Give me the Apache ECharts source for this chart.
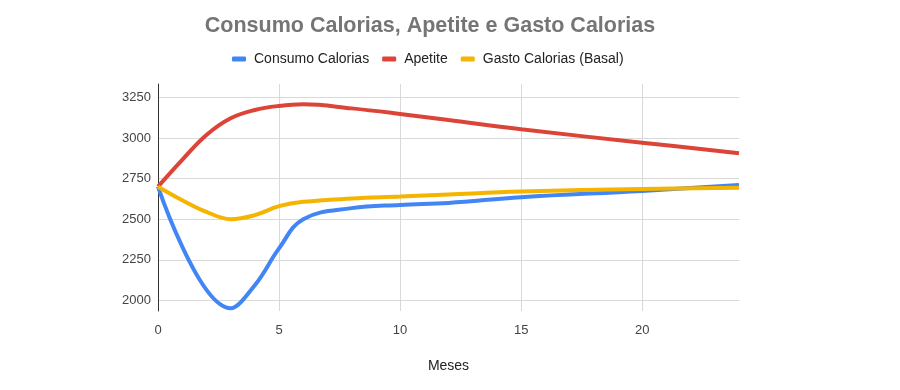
<!DOCTYPE html>
<html><head><meta charset="utf-8">
<script src="https://cdn.jsdelivr.net/npm/echarts@6/dist/echarts.min.js"></script>
<style>html,body{margin:0;padding:0;background:#fff}#c{width:900px;height:390px}</style>
</head><body><div id="c"></div>
<script>
const consumoMonths = [0, 3, 4, 5, 6, 8, 10, 12, 15, 20, 24];
const consumo = [2700, 1952, 2094, 2320, 2500, 2568, 2588, 2600, 2635, 2674, 2710];
const apetiteMonths = [0, 1, 2, 3, 4, 5, 6, 8, 10, 12, 15, 20, 24];
const apetite = [2700, 2865, 3018, 3121, 3172, 3197, 3207, 3182, 3148, 3110, 3053, 2971, 2906];
const gastoMonths = [0, 1, 2, 3, 4, 5, 6, 8, 10, 12, 15, 20, 24];
const gasto = [2700, 2617, 2545, 2500, 2525, 2580, 2607, 2627, 2639, 2652, 2670, 2686, 2693];
const xTicks = [0, 5, 10, 15, 20];
const yTicks = [2000, 2250, 2500, 2750, 3000, 3250];
const seriesNames = ['Consumo Calorias', 'Apetite', 'Gasto Calorias (Basal)'];
const colors = ['#4285F4', '#DB4437', '#F4B400'];

const toPairs = (ms, arr) => ms.map((m, i) => [m, arr[i]]);
const FONT = 'Liberation Sans, Arial, sans-serif';
const chart = echarts.init(document.getElementById('c'));
const seriesData = [toPairs(consumoMonths, consumo), toPairs(apetiteMonths, apetite), toPairs(gastoMonths, gasto)];
chart.setOption({
  animation: false,
  title: {
    text: 'Consumo Calorias, Apetite e Gasto Calorias',
    left: 425, top: 10, textAlign: 'center',
    textStyle: { fontFamily: FONT, fontSize: 21.5, fontWeight: 'bold', color: '#757575' }
  },
  legend: {
    data: seriesNames, top: 47, left: 227,
    icon: 'roundRect', itemWidth: 14, itemHeight: 5, itemGap: 13,
    textStyle: { fontFamily: FONT, fontSize: 14, color: '#222', padding: [0, 0, 0, 3] }
  },
  grid: { left: 158, right: 161, top: 84, bottom: 79 },
  xAxis: {
    type: 'value', min: 0, max: 24,
    name: 'Meses', nameLocation: 'middle', nameGap: 48,
    nameTextStyle: { fontFamily: FONT, fontSize: 14, color: '#222' },
    axisLine: { show: false },
    axisTick: { show: false, customValues: xTicks },
    axisLabel: { customValues: xTicks, fontFamily: FONT, fontSize: 13, color: '#444', margin: 13 },
    splitLine: { show: true, lineStyle: { color: '#d9d9d9', width: 1 } }
  },
  yAxis: {
    type: 'value', min: 1935, max: 3332,
    axisLine: { show: true, lineStyle: { color: '#333', width: 1 } },
    axisTick: { show: false, customValues: yTicks },
    axisLabel: { customValues: yTicks, formatter: v => String(v), fontFamily: FONT, fontSize: 13, color: '#444', margin: 7 },
    splitLine: { show: true, lineStyle: { color: '#d9d9d9', width: 1 } }
  },
  series: seriesData.map((d, i) => ({
    name: seriesNames[i], type: 'line', data: d,
    smooth: 0.4, showSymbol: false, symbol: 'none',
    lineStyle: { width: 4, color: colors[i] }, itemStyle: { color: colors[i] },
    z: i === 0 ? 3 : (i === 2 ? 4 : 2)
  }))
});
</script></body></html>
